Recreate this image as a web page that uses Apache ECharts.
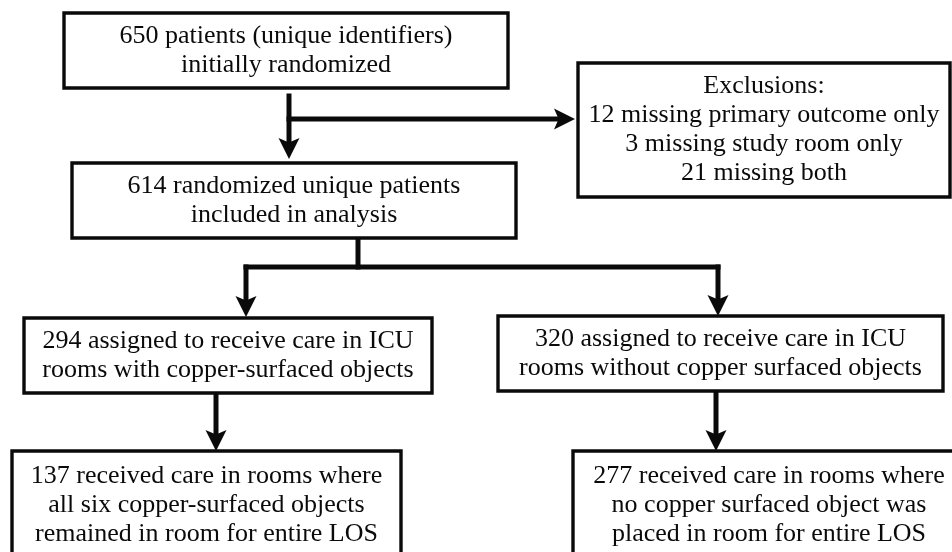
<!DOCTYPE html>
<html><head><meta charset="utf-8">
<script src="https://cdn.jsdelivr.net/npm/echarts@6/dist/echarts.min.js"></script>
<style>html,body{margin:0;padding:0;background:#fff}#c{width:952px;height:552px}</style>
</head><body><div id="c"></div>
<script>
// ---- Content (flowchart box texts) ----
const boxLabels = [
  ["650 patients (unique identifiers)", "initially randomized"],
  ["Exclusions:", "12 missing primary outcome only", "3 missing study room only", "21 missing both"],
  ["614 randomized unique patients", "included in analysis"],
  ["294 assigned to receive care in ICU", "rooms with copper-surfaced objects"],
  ["320 assigned to receive care in ICU", "rooms without copper surfaced objects"],
  ["137 received care in rooms where", "all six copper-surfaced objects", "remained in room for entire LOS"],
  ["277 received care in rooms where", "no copper surfaced object was", "placed in room for entire LOS"]
];

// ---- Layout (in a 952 x 552 value space) ----
const boxRects = [
  [64, 13, 508, 88],
  [578, 63, 950, 197],
  [72, 163, 516, 238],
  [24, 318, 432, 393],
  [498, 316, 943, 391],
  [12, 451, 401, 580],
  [573, 451, 965, 580]
];
const connectors = [
  { pts: [[289, 96], [289, 159]], arrow: true },
  { pts: [[289, 119], [575, 119]], arrow: true },
  { pts: [[358, 238], [358, 267]], arrow: false },
  { pts: [[246, 267], [718, 267]], arrow: false },
  { pts: [[246, 267], [246, 317]], arrow: true },
  { pts: [[718, 267], [718, 316]], arrow: true },
  { pts: [[216, 393], [216, 451]], arrow: true },
  { pts: [[716, 391], [716, 451]], arrow: true }
];

const FONT = '"Liberation Serif", "Times New Roman", serif';
const chart = echarts.init(document.getElementById('c'), null, { renderer: 'canvas' });

function renderBox(params, api) {
  const i = api.value(0);
  const r = boxRects[i];
  const p0 = api.coord([r[0], r[1]]);
  const p1 = api.coord([r[2], r[3]]);
  const x = Math.min(p0[0], p1[0]), y = Math.min(p0[1], p1[1]);
  const w = Math.abs(p1[0] - p0[0]), h = Math.abs(p1[1] - p0[1]);
  const lines = boxLabels[i];
  const lh = 29;
  const cy = y + h / 2;
  const children = [{
    type: 'rect',
    shape: { x: x, y: y, width: w, height: h },
    style: { fill: '#fff', stroke: '#0a0a0a', lineWidth: 3.4 }
  }];
  const startY = (i >= 5 ? y + 25 : cy - (lines.length - 1) * lh / 2);
  lines.forEach((t, k) => {
    children.push({
      type: 'text',
      style: {
        text: t, x: x + w / 2, y: startY + k * lh,
        align: 'center', verticalAlign: 'middle',
        font: '26px ' + FONT, fill: '#0a0a0a'
      }
    });
  });
  return { type: 'group', children: children };
}

function renderConnector(params, api) {
  const c = connectors[api.value(0)];
  const pts = c.pts.map(p => api.coord(p));
  const children = [];
  const last = pts[pts.length - 1], prev = pts[pts.length - 2];
  const dx = last[0] - prev[0], dy = last[1] - prev[1];
  const len = Math.sqrt(dx * dx + dy * dy);
  const ux = dx / len, uy = dy / len;
  const L = 21, W = 10.5;
  const linePts = pts.slice();
  if (c.arrow) {
    linePts[linePts.length - 1] = [last[0] - ux * L * 0.6, last[1] - uy * L * 0.6];
  }
  children.push({
    type: 'polyline',
    shape: { points: linePts },
    style: { stroke: '#0a0a0a', lineWidth: 5, fill: null, lineJoin: 'miter', lineCap: 'square' }
  });
  if (c.arrow) {
    const nx = -uy, ny = ux;
    const bx = last[0] - ux * L, by = last[1] - uy * L;
    const notchX = last[0] - ux * L * 0.78, notchY = last[1] - uy * L * 0.78;
    children.push({
      type: 'polygon',
      shape: { points: [
        [last[0], last[1]],
        [bx + nx * W, by + ny * W],
        [notchX, notchY],
        [bx - nx * W, by - ny * W]
      ] },
      style: { fill: '#0a0a0a', stroke: null }
    });
  }
  return { type: 'group', children: children };
}

chart.setOption({
  animation: false,
  backgroundColor: '#fff',
  grid: { left: 0, right: 0, top: 0, bottom: 0 },
  xAxis: { type: 'value', min: 0, max: 952, show: false },
  yAxis: { type: 'value', min: 0, max: 552, inverse: true, show: false },
  series: [
    {
      type: 'custom', name: 'connectors', clip: false, silent: true,
      data: connectors.map((_, i) => [i]),
      renderItem: renderConnector, z: 1
    },
    {
      type: 'custom', name: 'boxes', clip: false, silent: true,
      data: boxLabels.map((_, i) => [i]),
      renderItem: renderBox, z: 2
    }
  ]
});
</script></body></html>
